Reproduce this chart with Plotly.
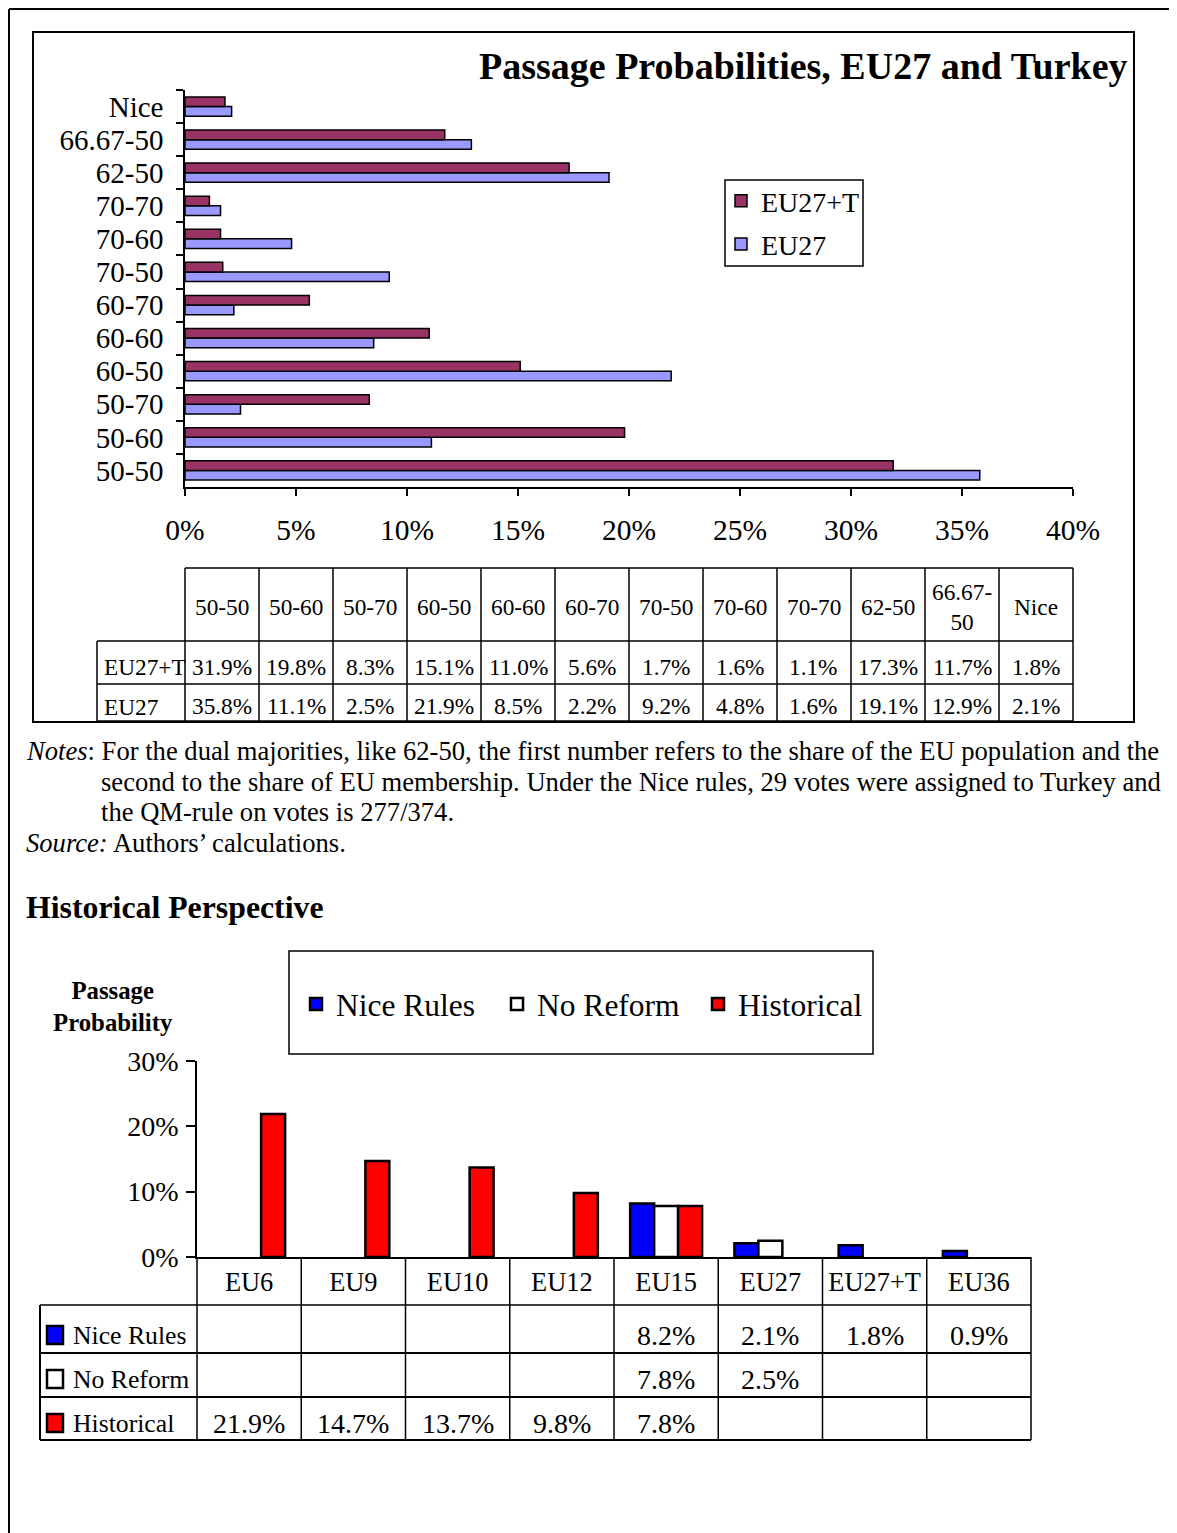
import plotly.graph_objects as go

W, H = 1177, 1533
FONT = "Liberation Serif, Times New Roman, serif"
OFF = 8  # page body margin


def px(x):
    return (x - OFF) / W


def py(y):
    return 1 - (y - OFF) / H


# ---------------- data ----------------
rules = ["50-50", "50-60", "50-70", "60-50", "60-60", "60-70",
         "70-50", "70-60", "70-70", "62-50", "66.67-50", "Nice"]
rule_headers = ["50-50", "50-60", "50-70", "60-50", "60-60", "60-70",
                "70-50", "70-60", "70-70", "62-50", "66.67-<br>50", "Nice"]
eu27t = [31.9, 19.8, 8.3, 15.1, 11.0, 5.6, 1.7, 1.6, 1.1, 17.3, 11.7, 1.8]
eu27 = [35.8, 11.1, 2.5, 21.9, 8.5, 2.2, 9.2, 4.8, 1.6, 19.1, 12.9, 2.1]

enlargements = ["EU6", "EU9", "EU10", "EU12", "EU15", "EU27", "EU27+T", "EU36"]
nice_rules = [None, None, None, None, 8.2, 2.1, 1.8, 0.9]
no_reform = [None, None, None, None, 7.8, 2.5, None, None]
historical = [21.9, 14.7, 13.7, 9.8, 7.8, None, None, None]

fig = go.Figure()

# ---------------- top chart ----------------
fig.add_trace(go.Bar(y=rules, x=eu27, orientation="h", name="EU27", legendrank=2,
                     legendgroup="eu27",
                     marker=dict(color="#9999FF", line=dict(color="black", width=1.5)),
                     xaxis="x", yaxis="y", legend="legend"))
fig.add_trace(go.Bar(y=rules, x=eu27t, orientation="h", name="EU27+T", legendrank=1,
                     legendgroup="eu27t",
                     marker=dict(color="#993366", line=dict(color="black", width=1.5)),
                     xaxis="x", yaxis="y", legend="legend"))

# ---------------- bottom chart ----------------
bw = 0.23
bottom_series = [("Nice Rules", nice_rules, "#0000FF", -1.5 * bw),
                 ("No Reform", no_reform, "#FFFFFF", -0.5 * bw),
                 ("Historical", historical, "#FF0000", 0.5 * bw)]
for name, vals, col, off in bottom_series:
    fig.add_trace(go.Bar(x=enlargements, y=vals, name=name, width=bw, offset=off,
                         marker=dict(color=col, line=dict(color="black", width=2.5)),
                         xaxis="x2", yaxis="y2", legend="legend2"))

shapes = []
annotations = []


def line(x0, y0, x1, y1, w=1.5):
    shapes.append(dict(type="line", xref="paper", yref="paper",
                       x0=px(x0), y0=py(y0), x1=px(x1), y1=py(y1),
                       line=dict(color="black", width=w)))


def rect(x0, y0, x1, y1, w=1.5, fill="rgba(0,0,0,0)"):
    shapes.append(dict(type="rect", xref="paper", yref="paper",
                       x0=px(x0), y0=py(y0), x1=px(x1), y1=py(y1),
                       line=dict(color="black", width=w), fillcolor=fill))


def text(x, y, s, size, xanchor="center", xref="paper", yanchor="middle"):
    annotations.append(dict(x=x if xref != "paper" else px(x), y=py(y), xref=xref, yref="paper",
                            text=s, showarrow=False, xanchor=xanchor, yanchor=yanchor,
                            font=dict(family=FONT, size=size, color="black")))


# outer frame (as close to the page corner as the page margin allows)
line(9, 9, 1185, 9, 2)
line(9, 9, 9, 1545, 2)
# top chart box
rect(33, 32, 1134, 722, 2)
# top legend box
rect(725, 180, 863, 266, 1.5)
# bottom legend box
rect(289, 951, 873, 1054, 1.5)

# title
text(1130, 66, "<b>Passage Probabilities, EU27 and Turkey</b>", 38, xanchor="right")

# top table
TS = 23.3
col0, colw = 185, 74
ncol = len(rules)
right = col0 + colw * ncol
line(col0, 568, right, 568)
line(97, 641, right, 641)
line(97, 684, right, 684)
line(97, 721, right, 721)
for i in range(ncol + 1):
    line(col0 + colw * i, 568, col0 + colw * i, 721)
line(97, 641, 97, 721)
for i, hdr in enumerate(rule_headers):
    text(col0 + colw * (i + 0.5), 607, hdr, TS)
    text(col0 + colw * (i + 0.5), 667, f"{eu27t[i]:.1f}%", TS)
    text(col0 + colw * (i + 0.5), 706, f"{eu27[i]:.1f}%", TS)
text(102, 667, "EU27+T", TS, xanchor="left")
text(102, 707, "EU27", TS, xanchor="left")

# notes
NS = 26.6
text(24, 751, "<i>Notes</i>: For the dual majorities, like 62-50, the first number refers to the share of the EU population and the", NS, xanchor="left")
text(99, 782, "second to the share of EU membership. Under the Nice rules, 29 votes were assigned to Turkey and", NS, xanchor="left")
text(99, 812, "the QM-rule on votes is 277/374.", NS, xanchor="left")
text(24, 843, "<i>Source:</i> Authors\u2019 calculations.", NS, xanchor="left")
text(24, 907, "<b>Historical Perspective</b>", 31.8, xanchor="left")

# bottom y title
text(113, 1006, "<b>Passage<br>Probability</b>", 24.8)

# bottom table
bx0, bx1 = 197, 1031
cw = (bx1 - bx0) / len(enlargements)
for i in range(len(enlargements) + 1):
    line(bx0 + cw * i, 1257, bx0 + cw * i, 1440)
line(40, 1305, bx1, 1305)
line(40, 1353, bx1, 1353, 2)
line(40, 1397, bx1, 1397, 2)
line(40, 1440, bx1, 1440, 2)
line(40, 1305, 40, 1440, 2)
row_y = [1335, 1379, 1423]
for (name, vals, col, off), ry in zip(bottom_series, row_y):
    rect(47, ry - 9, 63, ry + 9, 2.5, fill=col)
    text(71, ry, name, 25.7, xanchor="left")
    for cat, v in zip(enlargements, vals):
        if v is not None:
            text(cat, ry, f"{v:.1f}%", 28, xref="x2")

fig.update_layout(
    width=W, height=H,
    margin=dict(l=0, r=0, t=0, b=0, pad=0, autoexpand=False),
    paper_bgcolor="white", plot_bgcolor="white",
    barmode="group", bargap=0.42, bargroupgap=0,
    font=dict(family=FONT, color="black"),
    showlegend=True,
    xaxis=dict(domain=[px(185), px(1073)], anchor="y", range=[0, 40], dtick=5,
               ticksuffix="%", ticks="outside", ticklen=7, tickwidth=1.5, tickcolor="black",
               showline=True, linecolor="black", linewidth=1.5, showgrid=False, zeroline=False,
               tickfont=dict(size=29.5), ticklabelstandoff=9),
    yaxis=dict(domain=[py(487), py(90)], anchor="x", type="category",
               categoryorder="array", categoryarray=rules, tickson="boundaries",
               tickmode="linear", tick0=0, dtick=1,
               ticks="outside", ticklen=7, tickwidth=1.5, tickcolor="black",
               showline=True, linecolor="black", linewidth=1.5, showgrid=False,
               tickfont=dict(size=29), ticklabelstandoff=14),
    xaxis2=dict(domain=[px(197), px(1031)], anchor="y2", type="category",
                categoryorder="array", categoryarray=enlargements,
                tickmode="linear", tick0=0, dtick=1,
                showline=True, linecolor="black", linewidth=2, ticks="", showgrid=False,
                tickfont=dict(size=26.4), ticklabelstandoff=0),
    yaxis2=dict(domain=[py(1257), py(1061)], anchor="x2", range=[0, 30], dtick=10,
                ticksuffix="%", ticks="outside", ticklen=9, tickwidth=1.5, tickcolor="black",
                showline=True, linecolor="black", linewidth=1.5, showgrid=False, zeroline=False,
                tickfont=dict(size=28), ticklabelstandoff=2),
    legend=dict(x=px(721), y=py(176), xanchor="left", yanchor="top",
                traceorder="grouped", tracegroupgap=4,
                bgcolor="rgba(0,0,0,0)", borderwidth=0,
                font=dict(size=28, family=FONT)),
    legend2=dict(x=px(296), y=py(1004), xanchor="left", yanchor="middle",
                 orientation="h", bgcolor="rgba(0,0,0,0)", borderwidth=0,
                 entrywidth=156, entrywidthmode="pixels",
                 font=dict(size=31.5, family=FONT)),
    shapes=shapes,
    annotations=annotations,
)

fig.write_html("out.html")
